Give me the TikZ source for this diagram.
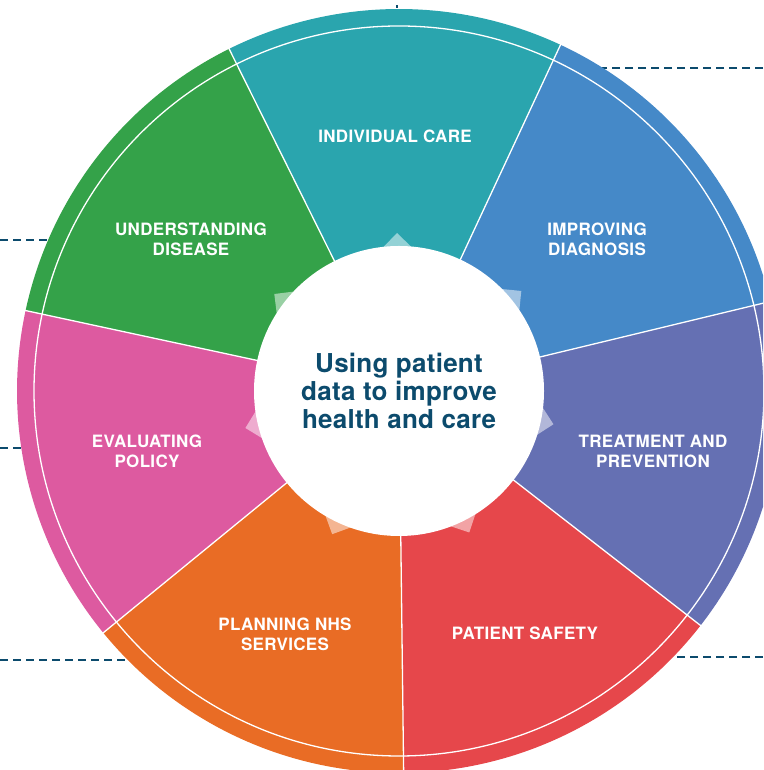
\documentclass[tikz,border=0pt]{standalone}
\usepackage{fontspec}
\setmainfont{TeX Gyre Heros}
\newfontfamily\wheelfont[LetterSpace=2]{TeX Gyre Heros}
\newfontfamily\hubfont[LetterSpace=1]{TeX Gyre Heros}
\usepackage{tikz}
\usetikzlibrary{positioning}
\definecolor{DataTeal}{HTML}{2AA5AE}
\definecolor{DataBlue}{HTML}{4589C8}
\definecolor{DataPurple}{HTML}{6570B3}
\definecolor{DataRed}{HTML}{E6474B}
\definecolor{DataOrange}{HTML}{E96C25}
\definecolor{DataPink}{HTML}{DD5AA0}
\definecolor{DataGreen}{HTML}{34A249}
\definecolor{DataNavy}{HTML}{0C4B6D}
\tikzstyle{sep} = [draw=white,line width=1.3pt]
\tikzstyle{tip} = [fill=white,fill opacity=.5]
\tikzstyle{hub} = [fill=white,shape=circle,minimum size=290pt,inner sep=0pt,align=center,text=DataNavy,font=\hubfont\bfseries\fontsize{26}{28}\selectfont]
\tikzstyle{lbl} = [text=white,align=center,font=\wheelfont\bfseries\fontsize{17}{20}\selectfont]
\tikzstyle{link} = [draw=DataNavy,line width=2.8pt,dash pattern=on 8pt off 5pt]

\begin{document}
\begin{tikzpicture}[x=1pt,y=1pt]
	\clip (0,0) rectangle (763,770);
	
	% dashed links, behind the wheel
	\coordinate (nA) at (397,762);
	\coordinate (nB) at (397,765);
	\coordinate (neA) at (399,702);
	\coordinate (neB) at (763,702);
	\coordinate (wA) at (399,530);
	\coordinate (wB) at (0,530);
	\coordinate (swA) at (399,322);
	\coordinate (swB) at (0,322);
	\coordinate (sA) at (399,110);
	\coordinate (sB) at (0,110);
	\coordinate (seA) at (399,113);
	\coordinate (seB) at (763,113);
	\draw[link] (nA) -- (nB);
	\draw[link] (neB) -- (neA);
	\draw[link] (wB) -- (wA);
	\draw[link] (swB) -- (swA);
	\draw[link] (sB) -- (sA);
	\draw[link] (seB) -- (seA);
	
	\begin{scope}[shift={(399,379)}]
		\fill[DataRed] (0,0) -- (-89.3:382) arc[start angle=-89.3,end angle=-37.87,radius=382] -- cycle;
		\fill[DataPurple] (0,0) -- (-37.87:382) arc[start angle=-37.87,end angle=13.56,radius=382] -- cycle;
		\fill[DataBlue] (0,0) -- (13.56:382) arc[start angle=13.56,end angle=64.99,radius=382] -- cycle;
		\fill[DataTeal] (0,0) -- (64.99:382) arc[start angle=64.99,end angle=116.41,radius=382] -- cycle;
		\fill[DataGreen] (0,0) -- (116.41:382) arc[start angle=116.41,end angle=167.84,radius=382] -- cycle;
		\fill[DataPink] (0,0) -- (167.84:382) arc[start angle=167.84,end angle=219.27,radius=382] -- cycle;
		\fill[DataOrange] (0,0) -- (219.27:382) arc[start angle=219.27,end angle=270.7,radius=382] -- cycle;
		
		% white borders
		\draw[sep] (0,0) -- (-89.3:383);
		\draw[sep] (0,0) -- (-37.87:383);
		\draw[sep] (0,0) -- (13.56:383);
		\draw[sep] (0,0) -- (64.99:383);
		\draw[sep] (0,0) -- (116.41:383);
		\draw[sep] (0,0) -- (167.84:383);
		\draw[sep] (0,0) -- (219.27:383);
		\draw[sep] (0,0) circle[radius=365];
		
		% pointers out of the hub
		\fill[tip,rotate=-63.59] (158,0) -- (130,28) -- (130,-28) -- cycle;
		\fill[tip,rotate=-12.15] (158,0) -- (130,28) -- (130,-28) -- cycle;
		\fill[tip,rotate=39.28] (158,0) -- (130,28) -- (130,-28) -- cycle;
		\fill[tip,rotate=90.7] (158,0) -- (130,28) -- (130,-28) -- cycle;
		\fill[tip,rotate=142.13] (158,0) -- (130,28) -- (130,-28) -- cycle;
		\fill[tip,rotate=193.55] (158,0) -- (130,28) -- (130,-28) -- cycle;
		\fill[tip,rotate=244.98] (158,0) -- (130,28) -- (130,-28) -- cycle;
	\end{scope}
	
	\node[hub] (hub) at (399,379) {Using patient\\data to improve\\health and care};
	
	\node[lbl] (care) at (395,634) {INDIVIDUAL CARE};
	\node[lbl] (diag) at (597,531) {IMPROVING\\DIAGNOSIS};
	\node[lbl] (treat) at (653,319) {TREATMENT AND\\PREVENTION};
	\node[lbl] (safety) at (525,137) {PATIENT SAFETY};
	\node[lbl] (nhs) at (285,135.5) {PLANNING NHS\\SERVICES};
	\node[lbl] (policy) at (147,319) {EVALUATING\\POLICY};
	\node[lbl] (disease) at (191,531) {UNDERSTANDING\\DISEASE};
\end{tikzpicture}
\end{document}
